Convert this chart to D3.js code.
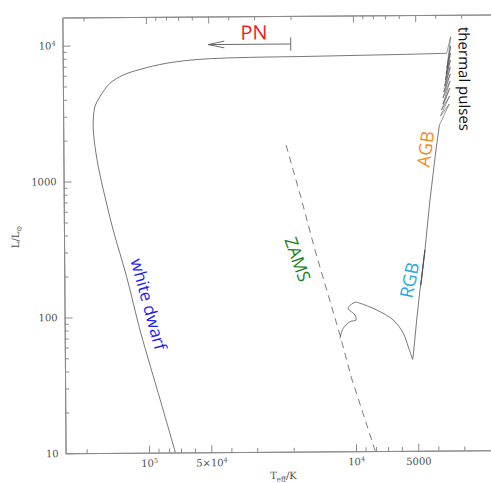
<!DOCTYPE html>
<html>
<head>
<meta charset="utf-8">
<script src="https://cdn.jsdelivr.net/npm/d3@7/dist/d3.min.js"></script>
<style>
  html, body { margin: 0; padding: 0; background: #fff; }
  svg { display: block; }
</style>
</head>
<body>
<svg id="hrd" width="491" height="483"></svg>
<script>
// Effective temperature (K) and luminosity (L/Lsun) along the evolutionary track

// Zero-age main sequence (dashed)
const zamsTeff = [21240, 18050, 15535, 11840, 10443, 8249, 8073];
const zamsLum  = [1806, 734.7, 303.9, 71.8, 34.4, 11.1, 10];

// Main sequence, hook and Hertzsprung gap
const msTeff = [11850, 11416, 10583, 9900, 10010, 10775, 10000, 9459, 7857, 6539, 5855, 5546, 5288];
const msLum  = [67.8, 80.4, 89.9, 92.3, 100.5, 112.8, 124.6, 122.6, 109.1, 91.9, 73.3, 58.3, 47.1];

// Red giant branch, core helium burning and early AGB
const giantTeff = [5288, 5246, 5039, 4848, 4571, 4795, 4571, 4303, 4012, 3850];
const giantLum  = [47.1, 50.8, 91.7, 152.2, 299.8, 165.7, 299.8, 699, 1629, 2488];

// Thermally pulsing AGB
const pulseTeff = [3850, 3446, 3797, 3432, 3761, 3420, 3696, 3410, 3695, 3400, 3661,
                   3395, 3626, 3389, 3593, 3383, 3560, 3377, 3526, 3373, 3534];
const pulseLum  = [2488, 3546, 2900, 4062, 3207, 4651, 3549, 5237, 3930, 5896, 4350,
                   6637, 4814, 7473, 5329, 8414, 5899, 9475, 6524, 11090, 8375];

// Post-AGB crossing and white dwarf cooling
const postTeff = [3534, 5943, 10360, 18070, 31520, 54950, 79600, 107250, 129150, 150000, 167700,
                  177500, 181200, 179400, 171800, 159900, 146300, 126500, 109500, 97700, 87000, 74600];
const postLum  = [8375, 8260, 8166, 8070, 8015, 7800, 7330, 6620, 6030, 5250, 4193,
                  3540, 2672, 2014, 1281, 770, 437, 198, 80.1, 42.9, 23.1, 10];

// Planetary-nebula arrow: from 2e4 K to 5e4 K at L = 1e4
const pnArrowTeff = [20000, 50000];
const pnArrowLum = 10000;

// Axis ticks
const xMajor = [1e5, 5e4, 1e4, 5000];
const xMajorLabels = [["10", "5"], ["5×10", "4"], ["10", "4"], ["5000", ""]];
const xMinor = [2e5, 9e4, 8e4, 7e4, 6e4, 4e4, 3e4, 2e4, 9000, 8000, 7000, 6000, 4000, 3000, 2000];
const yMajor = [10, 100, 1000, 10000];
const yMajorLabels = [["10", ""], ["100", ""], ["1000", ""], ["10", "4"]];
const yMinor = [20, 30, 40, 50, 60, 70, 80, 90, 200, 300, 400, 500, 600, 700, 800, 900,
                2000, 3000, 4000, 5000, 6000, 7000, 8000, 9000];

const svg = d3.select("#hrd");
const frame = { left: 64, right: 508.6, top: 16, bottom: 451.8 };

const x = d3.scaleLog().domain([253000, 1800]).range([frame.left, frame.right]);
const y = d3.scaleLog().domain([10, 16100]).range([frame.bottom, frame.top]);

const root = svg.append("g").attr("transform", "rotate(-0.42 275 235)");

const axisColor = "#8a8a8a";
const labelColor = "#4d4d4d";
const serif = "'DejaVu Serif', 'Liberation Serif', serif";
const sans = "'Open Sans', 'DejaVu Sans', sans-serif";

function styleAxis(sel) {
  sel.select(".domain").attr("stroke", axisColor).attr("stroke-width", 1);
  sel.selectAll(".tick line").attr("stroke", axisColor).attr("stroke-width", 1);
  sel.selectAll("text").attr("fill", labelColor).attr("font-family", serif).attr("font-size", 10);
}

function powerLabels(sel, labels) {
  sel.selectAll(".tick text").each(function (d, i) {
    const t = d3.select(this).text(null);
    const [base, exp] = labels[i];
    t.append("tspan").text(base);
    if (exp) t.append("tspan").attr("font-size", 6.5).attr("dy", -4).text(exp);
  });
}

// bottom axis
root.append("g")
  .attr("transform", `translate(0,${frame.bottom})`)
  .call(d3.axisBottom(x).tickValues(xMinor).tickSize(-4).tickSizeOuter(0).tickFormat(() => ""))
  .call(styleAxis);
root.append("g")
  .attr("transform", `translate(0,${frame.bottom})`)
  .call(d3.axisBottom(x).tickValues(xMajor).tickSize(-7).tickSizeOuter(0).tickPadding(7))
  .call(styleAxis)
  .call(powerLabels, xMajorLabels);

// top axis
root.append("g")
  .attr("transform", `translate(0,${frame.top})`)
  .call(d3.axisTop(x).tickValues(xMinor).tickSize(-4).tickSizeOuter(0).tickFormat(() => ""))
  .call(styleAxis);
root.append("g")
  .attr("transform", `translate(0,${frame.top})`)
  .call(d3.axisTop(x).tickValues(xMajor).tickSize(-7).tickSizeOuter(0).tickFormat(() => ""))
  .call(styleAxis);

// left axis
root.append("g")
  .attr("transform", `translate(${frame.left},0)`)
  .call(d3.axisLeft(y).tickValues(yMinor).tickSize(-4).tickSizeOuter(0).tickFormat(() => ""))
  .call(styleAxis);
root.append("g")
  .attr("transform", `translate(${frame.left},0)`)
  .call(d3.axisLeft(y).tickValues(yMajor).tickSize(-8).tickSizeOuter(0).tickPadding(7))
  .call(styleAxis)
  .call(powerLabels, yMajorLabels);

// axis titles
const yTitle = root.append("text")
  .attr("transform", "translate(19,235) rotate(-90)")
  .attr("text-anchor", "middle")
  .attr("font-family", serif).attr("font-size", 10).attr("fill", labelColor);
yTitle.append("tspan").text("L/L");
yTitle.append("tspan").attr("font-size", 7).attr("dy", 2.5).text("⊙");

const xTitle = root.append("text")
  .attr("x", 281.7).attr("y", 479)
  .attr("text-anchor", "middle")
  .attr("font-family", serif).attr("font-size", 10).attr("fill", labelColor);
xTitle.append("tspan").text("T");
xTitle.append("tspan").attr("font-size", 7).attr("dy", 2.5).text("eff");
xTitle.append("tspan").attr("dy", -2.5).text("/K");

// tracks
root.append("clipPath").attr("id", "plotClip")
  .append("rect")
  .attr("x", frame.left).attr("y", frame.top)
  .attr("width", frame.right - frame.left).attr("height", frame.bottom - frame.top);

const plot = root.append("g").attr("clip-path", "url(#plotClip)");
const zip = (ts, ls) => ts.map((t, i) => [t, ls[i]]);
const smooth = d3.line().x(d => x(d[0])).y(d => y(d[1])).curve(d3.curveCatmullRom.alpha(0.5));
const straight = d3.line().x(d => x(d[0])).y(d => y(d[1]));
const trackColor = "#4a4a4a";

plot.append("path").datum(zip(zamsTeff, zamsLum))
  .attr("d", straight).attr("fill", "none")
  .attr("stroke", "#5a5a5a").attr("stroke-width", 0.8).attr("stroke-dasharray", "7,5");

plot.append("path").datum(zip(msTeff, msLum))
  .attr("d", smooth).attr("fill", "none").attr("stroke", trackColor).attr("stroke-width", 0.75);
plot.append("path").datum(zip(giantTeff, giantLum))
  .attr("d", straight).attr("fill", "none").attr("stroke", trackColor).attr("stroke-width", 0.75);
plot.append("path").datum(zip(pulseTeff, pulseLum))
  .attr("d", straight).attr("fill", "none").attr("stroke", trackColor).attr("stroke-width", 0.55);
plot.append("path").datum(zip(postTeff, postLum))
  .attr("d", smooth).attr("fill", "none").attr("stroke", trackColor).attr("stroke-width", 0.75);

// PN arrow
const ay = y(pnArrowLum);
const ax0 = x(pnArrowTeff[0]), ax1 = x(pnArrowTeff[1]);
const arrowColor = "#5a5a5a";
root.append("line").attr("x1", ax0).attr("x2", ax1).attr("y1", ay).attr("y2", ay)
  .attr("stroke", arrowColor).attr("stroke-width", 0.9);
root.append("line").attr("x1", ax0).attr("x2", ax0).attr("y1", ay - 6.5).attr("y2", ay + 6.5)
  .attr("stroke", arrowColor).attr("stroke-width", 0.9);
root.append("path")
  .attr("d", `M${ax1 + 16},${ay - 3.4}L${ax1},${ay}L${ax1 + 16},${ay + 3.4}`)
  .attr("fill", "none").attr("stroke", arrowColor).attr("stroke-width", 0.9);

// phase labels, sized to their span along the track
function phaseLabel(text, teff, lum, angle, color, span) {
  const t = root.append("text")
    .attr("text-anchor", "middle")
    .attr("dominant-baseline", "central")
    .attr("font-family", sans)
    .attr("font-size", 16)
    .attr("fill", color)
    .attr("transform", `translate(${x(teff)},${y(lum)}) rotate(${angle})`)
    .text(text);
  const w = t.node().getComputedTextLength();
  t.attr("font-size", (16 * span / w).toFixed(2));
}

phaseLabel("PN", 30060, 12300, 0, "#ee1d23", 27);
phaseLabel("thermal pulses", 2890, 5410, 90, "#111111", 104);
phaseLabel("AGB", 4535, 1660, -82, "#f7891f", 36);
phaseLabel("RGB", 5472, 180.6, -78, "#28a9e3", 36);
phaseLabel("ZAMS", 18690, 261.3, 71, "#17801c", 46);
phaseLabel("white dwarf", 98900, 124.2, 75, "#1d1df2", 94);
</script>
</body>
</html>
